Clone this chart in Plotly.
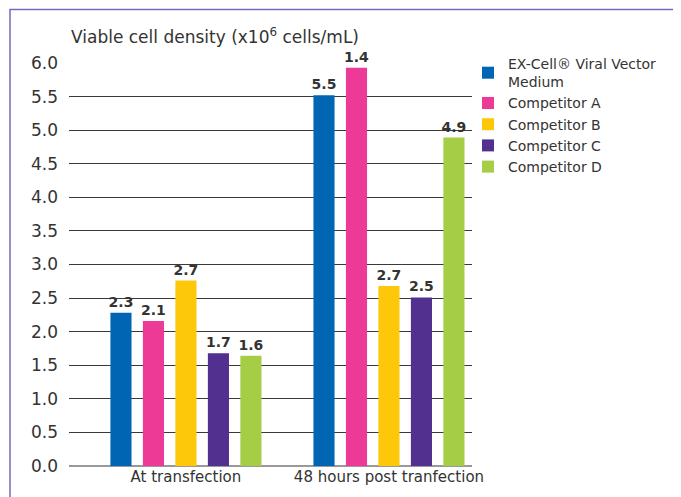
import plotly.graph_objects as go

categories = ["At transfection", "48 hours post tranfection"]
series_names = ["EX-Cell® Viral Vector<br>Medium", "Competitor A", "Competitor B", "Competitor C", "Competitor D"]
series_values = [
    [2.28, 5.52],
    [2.16, 5.93],
    [2.76, 2.68],
    [1.68, 2.51],
    [1.64, 4.89],
]
series_labels = [
    ["2.3", "5.5"],
    ["2.1", "1.4"],
    ["2.7", "2.7"],
    ["1.7", "2.5"],
    ["1.6", "4.9"],
]
colors = ["#0066b3", "#ec3a96", "#fec80a", "#51308f", "#a5cd45"]
y_ticks = [0.0, 0.5, 1.0, 1.5, 2.0, 2.5, 3.0, 3.5, 4.0, 4.5, 5.0, 5.5, 6.0]

FONT = "DejaVu Sans"
OFF = 8  # page body margin
W, H = 681 - OFF, 497 - OFF
L, R, T, B = 69 - OFF, 472 - OFF, 63 - OFF, 466 - OFF

fig = go.Figure()
for name, vals, labs, col in zip(series_names, series_values, series_labels, colors):
    fig.add_trace(go.Bar(
        x=categories, y=vals, name=name, marker_color=col, marker_line_width=0,
        text=labs, textposition="outside", cliponaxis=False, constraintext="none",
        textfont=dict(family=FONT, size=14, color="#333333", weight="bold"),
    ))

pw, ph = R - L, B - T
def px(x):
    return (x - OFF - L) / pw
def py(y):
    return (B - (y - OFF)) / ph

fig.update_layout(
    width=W, height=H,
    margin=dict(l=L, r=W - R, t=T, b=H - B, pad=0),
    paper_bgcolor="white", plot_bgcolor="white",
    barmode="group", bargap=0.2, bargroupgap=0.35,
    font=dict(family=FONT, color="#333333"),
    xaxis=dict(range=[-0.576, 1.409], showgrid=False, showline=False, ticks="",
               tickfont=dict(size=15, color="#333333")),
    yaxis=dict(range=[0, 6.0], tickvals=y_ticks, ticktext=[f"{v:.1f}" for v in y_ticks],
               showgrid=True, gridcolor="#3a3a3a", gridwidth=1,
               zeroline=True, zerolinecolor="#999999", zerolinewidth=2,
               showline=False, ticks="", ticklabelstandoff=10,
               tickfont=dict(size=17, color="#333333")),
    legend=dict(x=px(468), y=py(48), xanchor="left", yanchor="top",
                font=dict(size=14, color="#333333"), tracegroupgap=0,
                itemsizing="constant", bgcolor="rgba(0,0,0,0)"),
    showlegend=True,
)
fig.add_annotation(text="Viable cell density (x10<sup>6</sup> cells/mL)", xref="paper", yref="paper",
                   x=px(69), y=py(36), xanchor="left", yanchor="middle", showarrow=False,
                   font=dict(size=17, color="#333333"))
fig.add_shape(type="rect", xref="paper", yref="paper",
              x0=px(10), x1=px(700), y0=py(520), y1=py(9.5),
              line=dict(color="#7b68b8", width=1.5), fillcolor="rgba(0,0,0,0)", layer="below")

fig.write_html("out.html")
